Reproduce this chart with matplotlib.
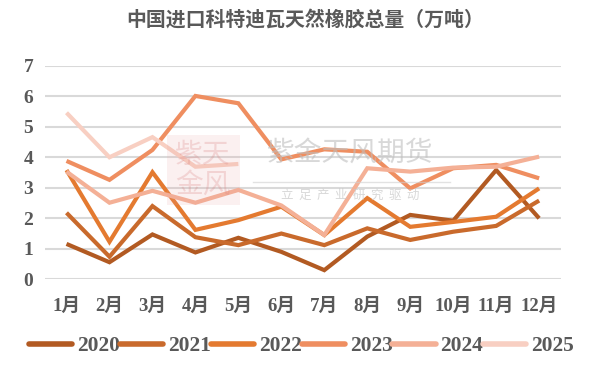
import matplotlib
matplotlib.use("Agg")
import matplotlib.pyplot as plt
from matplotlib.patches import Rectangle

plt.rcParams['font.family'] = ['Liberation Serif', 'Noto Sans CJK SC', 'DejaVu Sans']

months = ['1月', '2月', '3月', '4月', '5月', '6月', '7月', '8月', '9月', '10月', '11月', '12月']
years = ['2020', '2021', '2022', '2023', '2024', '2025']
v2020 = [1.16, 0.56, 1.47, 0.88, 1.36, 0.90, 0.30, 1.40, 2.11, 1.92, 3.58, 2.00]
v2021 = [2.18, 0.74, 2.40, 1.38, 1.12, 1.50, 1.12, 1.67, 1.29, 1.56, 1.75, 2.58]
v2022 = [3.58, 1.23, 3.51, 1.62, 1.94, 2.38, 1.45, 2.66, 1.72, 1.88, 2.05, 2.98]
v2023 = [3.88, 3.26, 4.24, 6.01, 5.77, 3.93, 4.26, 4.18, 2.98, 3.64, 3.75, 3.31]
v2024 = [3.53, 2.51, 2.90, 2.51, 2.93, 2.42, 1.45, 3.64, 3.53, 3.66, 3.69, 4.02]
v2025 = [5.46, 4.00, 4.66, 3.69, 3.78]
series = [v2020, v2021, v2022, v2023, v2024, v2025]
colors = ['#b25a22', '#c96a2c', '#e47a30', '#ef8e60', '#f4b096', '#f8cfc2']

fig = plt.figure(figsize=(5.94, 3.89), dpi=100)
ax = fig.add_axes([0.0758, 0.282, 0.868, 0.549])

x = list(range(1, 13))
for name, vals, c in zip(years, series, colors):
    ax.plot(x[:len(vals)], vals, color=c, lw=3, label=name, zorder=3,
            solid_joinstyle='miter', solid_capstyle='butt')

ax.set_xlim(0.5, 12.5)
ax.set_ylim(0, 7)
ax.set_yticks(range(8))
ax.set_xticks(x)
ax.set_xticklabels(months)
ax.grid(axis='y', color='#d9d9d9', lw=1.5, zorder=0)
ax.set_axisbelow(True)
for s in ax.spines.values():
    s.set_visible(False)
ax.tick_params(length=0, labelsize=13.5, labelcolor='#595959')
ax.tick_params(axis='x', pad=13)
ax.tick_params(axis='y', pad=8.5, labelsize=14)
for lab in ax.get_xticklabels() + ax.get_yticklabels():
    lab.set_fontweight('bold')

# watermark
fig.patches.append(Rectangle((167 / 594, 1 - 205 / 389), 73 / 594, 70 / 389,
                             transform=fig.transFigure, facecolor='#e8a0a0',
                             alpha=0.15, edgecolor='none', zorder=1))
fig.text(203 / 594, 1 - 170 / 389, '紫天\n金风', fontsize=20, color='#d98080', alpha=0.25,
         ha='center', va='center', family=['Noto Sans CJK SC'], linespacing=1.0)
fig.text(350 / 594, 1 - 153 / 389, '紫金天风期货', fontsize=20, color='#bfbfbf', alpha=0.6,
         ha='center', va='center', family=['Noto Sans CJK SC'])
fig.lines.append(plt.Line2D([253 / 594, 450 / 594], [1 - 182 / 389] * 2,
                            transform=fig.transFigure, color='#d0d0d0', lw=1, alpha=0.6))
fig.text(350 / 594, 1 - 195 / 389, '立  足  产  业  研  究  驱  动', fontsize=9, color='#c8c8c8',
         alpha=0.7, ha='center', va='center', family=['Noto Sans CJK SC'])

fig.text(305 / 594, 1 - 19 / 389, '中国进口科特迪瓦天然橡胶总量（万吨）', fontsize=14.3, fontweight='bold',
         color='#595959', ha='center', va='center', family=['Noto Sans CJK SC'])

leg = fig.legend(loc='center', bbox_to_anchor=(301.5 / 594, 1 - 346 / 389), ncol=6, frameon=False,
                 handlelength=2.0, handletextpad=0.23, columnspacing=0.0,
                 prop={'size': 15.5, 'weight': 'bold'})
for t in leg.get_texts():
    t.set_color('#595959')
for h in leg.get_lines():
    h.set_linewidth(4)
    h.set_solid_capstyle('round')

fig.savefig('out.png', dpi=100)
